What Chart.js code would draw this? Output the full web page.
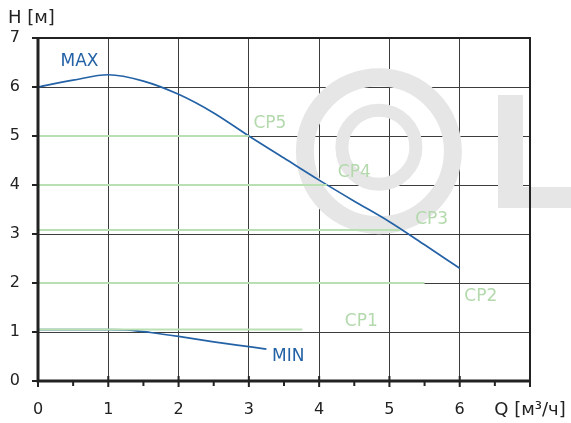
<!DOCTYPE html>
<html>
<head>
<meta charset="utf-8">
<script src="https://cdn.jsdelivr.net/npm/chart.js@4"></script>
<style>
  html, body { margin: 0; padding: 0; background: #fff; }
  #wrap { width: 571px; height: 423px; }
</style>
</head>
<body>
<div id="wrap"><canvas id="pumpChart" width="571" height="423"></canvas></div>
<script>
// pump curves, Q in m3/h, H in m
const maxQ = [0, 0.5, 1, 1.5, 2, 2.5, 3, 3.5, 4, 4.5, 5, 5.5, 6];
const maxH = [6.0, 6.14, 6.25, 6.12, 5.85, 5.47, 5.0, 4.55, 4.1, 3.67, 3.25, 2.78, 2.3];
const minQ = [0, 0.5, 1, 1.3, 1.6, 2, 2.5, 3, 3.25];
const minH = [1.05, 1.05, 1.05, 1.04, 0.99, 0.91, 0.8, 0.7, 0.65];

// constant pressure modes
const cpNames = ["CP1", "CP2", "CP3", "CP4", "CP5"];
const cpH = [1.05, 2.0, 3.08, 4.0, 5.0];
const cpQend = [3.76, 5.5, 5.15, 4.11, 3.0];

// text labels, anchored in data units
const labelText = ["MAX", "MIN", "CP1", "CP2", "CP3", "CP4", "CP5"];
const labelQ = [0.59, 3.56, 4.6, 6.3, 5.6, 4.5, 3.3];
const labelH = [6.52, 0.5, 1.21, 1.72, 3.3, 4.25, 5.25];

const xTicks = [0, 1, 2, 3, 4, 5, 6, 7];
const yTicks = [0, 1, 2, 3, 4, 5, 6, 7];

const blue = "#2462a6";
const green = "#b9dfb3";
const greenText = "#b3d9ad";
const logoGrey = "#e6e6e6";
const font = "'DejaVu Sans', Verdana, sans-serif";

const toPts = (xs, ys) => xs.map((x, i) => ({ x: x, y: ys[i] }));

const datasets = cpH.map((h, i) => ({
  label: cpNames[i],
  data: [{ x: 0, y: h }, { x: cpQend[i], y: h }],
  borderColor: green,
  borderWidth: 2,
  pointRadius: 0,
  tension: 0,
}));
datasets.push({
  label: "MAX",
  data: toPts(maxQ, maxH),
  borderColor: blue,
  borderWidth: 1.7,
  pointRadius: 0,
  tension: 0.4,
  cubicInterpolationMode: "monotone",
});
datasets.push({
  label: "MIN",
  data: toPts(minQ, minH),
  borderColor: blue,
  borderWidth: 1.7,
  pointRadius: 0,
  tension: 0.4,
  cubicInterpolationMode: "monotone",
});

// grey logo in the background
const watermark = {
  id: "watermark",
  beforeDatasetsDraw(chart) {
    const ctx = chart.ctx;
    const x = chart.scales.x, y = chart.scales.y;
    const cx = x.getPixelForValue(4.85);
    ctx.save();
    ctx.strokeStyle = logoGrey;
    ctx.lineWidth = 18;
    ctx.beginPath();
    ctx.arc(cx, y.getPixelForValue(4.69), 74, 0, Math.PI * 2);
    ctx.stroke();
    ctx.lineWidth = 13;
    ctx.beginPath();
    ctx.arc(cx, y.getPixelForValue(4.77), 37, 0, Math.PI * 2);
    ctx.stroke();
    ctx.fillStyle = logoGrey;
    ctx.fillRect(498, 95, 25, 113);
    ctx.fillRect(498, 187, 80, 21);
    ctx.restore();
  },
};

// heavy axes, frame, tick marks, labels
const decor = {
  id: "decor",
  afterDatasetsDraw(chart) {
    const ctx = chart.ctx;
    const a = chart.chartArea;
    const x = chart.scales.x, y = chart.scales.y;
    ctx.save();
    ctx.strokeStyle = "#222";
    ctx.lineWidth = 2;
    ctx.strokeRect(a.left, a.top, a.right - a.left, a.bottom - a.top);
    ctx.lineWidth = 3;
    ctx.beginPath();
    ctx.moveTo(a.left, a.top - 1);
    ctx.lineTo(a.left, a.bottom);
    ctx.lineTo(a.right + 1, a.bottom);
    ctx.stroke();
    ctx.lineWidth = 2;
    ctx.beginPath();
    yTicks.forEach((v) => {
      const py = y.getPixelForValue(v);
      ctx.moveTo(a.left - 6, py);
      ctx.lineTo(a.left, py);
    });
    xTicks.forEach((v) => {
      const px = x.getPixelForValue(v);
      ctx.moveTo(px, a.bottom - 5);
      ctx.lineTo(px, a.bottom + 6);
      if (v < 7) {
        const ph = x.getPixelForValue(v + 0.5);
        ctx.moveTo(ph, a.bottom);
        ctx.lineTo(ph, a.bottom + 5);
      }
    });
    ctx.stroke();

    ctx.font = "17px " + font;
    ctx.textAlign = "center";
    ctx.textBaseline = "middle";
    labelText.forEach((t, i) => {
      ctx.fillStyle = t.startsWith("CP") ? greenText : blue;
      ctx.fillText(t, x.getPixelForValue(labelQ[i]), y.getPixelForValue(labelH[i]));
    });

    ctx.fillStyle = "#222";
    ctx.font = "18px " + font;
    ctx.textAlign = "left";
    ctx.fillText("H [м]", 8, 18);
    ctx.restore();
  },
};

new Chart(document.getElementById("pumpChart"), {
  type: "line",
  data: { datasets: datasets },
  options: {
    responsive: false,
    animation: false,
    layout: { padding: { top: 38, right: 41, left: 0, bottom: 0 } },
    plugins: { legend: { display: false }, tooltip: { enabled: false } },
    scales: {
      x: {
        type: "linear",
        min: 0,
        max: 7,
        afterBuildTicks: (s) => { s.ticks = xTicks.map((v) => ({ value: v })); },
        afterFit: (s) => { s.height = 42; s.paddingLeft = 0; s.paddingRight = 0; },
        grid: { color: "#3c3c3c", lineWidth: 1, drawTicks: false },
        border: { display: false },
        ticks: {
          padding: 19,
          color: "#222",
          autoSkip: false,
          font: (c) => ({ family: font, size: c.tick && c.tick.value === 7 ? 18 : 16 }),
          maxRotation: 0,
          callback: (v) => (v === 7 ? "Q [м³/ч]" : v),
        },
      },
      y: {
        type: "linear",
        min: 0,
        max: 7,
        afterBuildTicks: (s) => { s.ticks = yTicks.map((v) => ({ value: v })); },
        afterFit: (s) => { s.width = 38; s.paddingTop = 0; s.paddingBottom = 0; },
        grid: { color: "#3c3c3c", lineWidth: 1, drawTicks: false },
        border: { display: false },
        ticks: {
          padding: 18,
          color: "#222",
          font: { family: font, size: 16 },
        },
      },
    },
  },
  plugins: [watermark, decor],
});
</script>
</body>
</html>
